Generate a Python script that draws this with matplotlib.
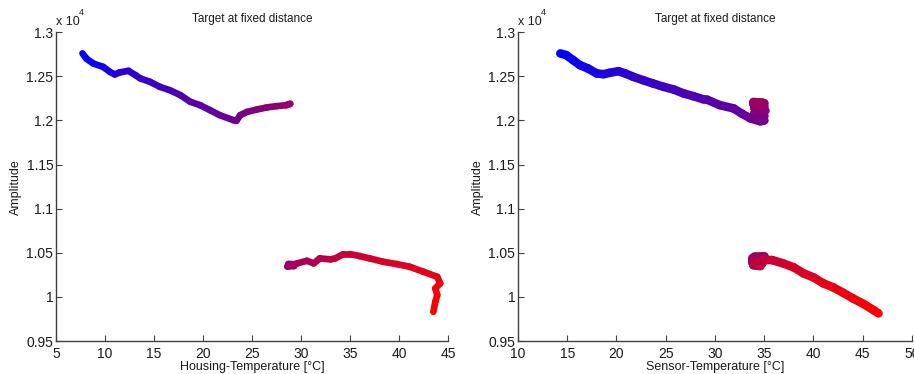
import numpy as np
import matplotlib
matplotlib.use("Agg")
import matplotlib.pyplot as plt
from matplotlib.collections import LineCollection
from matplotlib.colors import LinearSegmentedColormap
from matplotlib.ticker import FuncFormatter

plt.rcParams['font.family'] = ['Liberation Sans', 'DejaVu Sans']

# housing temperature run, before and after the jump
housing_t1 = [7.7, 8.1, 8.8, 9.8, 10.5, 11.0, 11.5, 12.4, 13.1, 13.6, 14.6, 15.6, 16.6,
              17.7, 18.7, 19.7, 20.7, 21.7, 23.1, 23.4, 23.8, 24.5, 25.5, 26.5, 27.5,
              28.5, 28.9, 28.6]
housing_a1 = [12760, 12700, 12645, 12607, 12550, 12521, 12544, 12562, 12513, 12476, 12437,
              12380, 12343, 12286, 12211, 12173, 12117, 12060, 12003, 11995, 12060, 12097,
              12124, 12147, 12162, 12172, 12188, 12180]
housing_t2 = [28.7, 29.4, 28.6, 29.3, 29.0, 29.6, 30.6, 31.3, 31.9, 33.0, 33.5, 34.3, 35.0,
              36.0, 37.0, 38.4, 39.8, 41.1, 42.5, 43.9, 44.2, 43.7, 43.9, 43.7, 43.5]
housing_a2 = [10375, 10370, 10345, 10350, 10360, 10380, 10410, 10380, 10437, 10426, 10437,
              10485, 10485, 10463, 10437, 10398, 10372, 10342, 10285, 10228, 10154, 10097,
              10021, 9945, 9832]

# sensor temperature run, before and after the jump
sensor_t1 = [14.3, 14.9, 15.6, 16.3, 17.1, 18.0, 18.7, 19.3, 20.2, 20.9, 21.7, 22.7, 23.7,
             24.8, 25.8, 26.8, 27.8, 28.8, 29.2, 30.5, 31.9, 32.7, 33.6, 34.6,
             35.0, 34.1, 35.0, 34.0, 35.1, 34.0, 35.0, 33.9, 35.0, 33.9, 34.8]
sensor_a1 = [12759, 12740, 12683, 12626, 12589, 12532, 12524, 12539, 12558, 12532, 12494,
             12456, 12419, 12380, 12351, 12306, 12275, 12240, 12235, 12173, 12136, 12079,
             12023, 11990, 12000, 12030, 12050, 12080, 12110, 12140, 12160, 12185, 12195,
             12210, 12210]
sensor_t2 = [34.0, 35.0, 33.8, 35.0, 33.8, 34.8, 33.8, 34.8, 33.9, 34.6, 34.3, 35.0, 35.8,
             36.9, 38.0, 39.0, 40.0, 41.0, 42.0, 43.0, 44.0, 45.1, 46.1, 46.6]
sensor_a2 = [10460, 10460, 10440, 10440, 10420, 10410, 10390, 10380, 10360, 10350, 10370,
             10420, 10418, 10381, 10335, 10267, 10222, 10154, 10109, 10048, 9984, 9920,
             9851, 9814]

# share of the measurement time covered by each run (start, end)
run1_time = (0.0, 0.62)
run2_time = (0.56, 1.0)

cmap = LinearSegmentedColormap.from_list('br', ['#0000ff', '#ff0000'])
axis_color = '#404040'
text_color = '#1a1a1a'


def draw_run(ax, t1, a1, t2, a2, lw):
    for t, a, (f0, f1) in ((t1, a1, run1_time), (t2, a2, run2_time)):
        pts = np.column_stack([t, a])
        segs = np.stack([pts[:-1], pts[1:]], axis=1)
        frac = f0 + (f1 - f0) * (np.arange(len(segs)) + 0.5) / len(segs)
        lc = LineCollection(segs, colors=cmap(frac), linewidths=lw,
                            capstyle='round', joinstyle='round')
        ax.add_collection(lc)


def style_axes(ax, xlim, xlabel):
    ax.set_xlim(*xlim)
    ax.set_ylim(9500, 13000)
    ax.set_xticks(np.arange(xlim[0], xlim[1] + 1, 5))
    ax.set_yticks(np.arange(9500, 13001, 500))
    ax.yaxis.set_major_formatter(FuncFormatter(lambda v, p: '%g' % round(v / 1e4, 3)))
    for side in ('top', 'right'):
        ax.spines[side].set_visible(False)
    for side in ('left', 'bottom'):
        ax.spines[side].set_color(axis_color)
        ax.spines[side].set_linewidth(1.0)
    ax.tick_params(direction='in', length=4, width=0.8, color=axis_color,
                   labelsize=10, labelcolor=text_color)
    ax.tick_params(axis='x', pad=4)
    ax.tick_params(axis='y', pad=2)
    ax.set_xlabel(xlabel, fontsize=9, color=text_color, labelpad=0)
    ax.set_ylabel('Amplitude', fontsize=9, color=text_color, labelpad=3)
    ax.set_title('Target at fixed distance', fontsize=8.5, color=text_color, pad=7)
    ax.text(0.0, 1.014, 'x 10', transform=ax.transAxes, fontsize=9,
            color=text_color, ha='left', va='bottom')
    ax.text(0.059, 1.05, '4', transform=ax.transAxes, fontsize=6.5,
            color=text_color, ha='left', va='bottom')


fig = plt.figure(figsize=(9.14, 3.74), dpi=100)
ax1 = fig.add_axes([0.0613, 0.088, 0.4289, 0.826])
ax2 = fig.add_axes([0.5667, 0.088, 0.4311, 0.826])

draw_run(ax1, housing_t1, housing_a1, housing_t2, housing_a2, lw=4.8)
draw_run(ax2, sensor_t1, sensor_a1, sensor_t2, sensor_a2, lw=6.2)

style_axes(ax1, (5, 45), 'Housing-Temperature [°C]')
style_axes(ax2, (10, 50), 'Sensor-Temperature [°C]')

fig.savefig('out.png', dpi=100)
